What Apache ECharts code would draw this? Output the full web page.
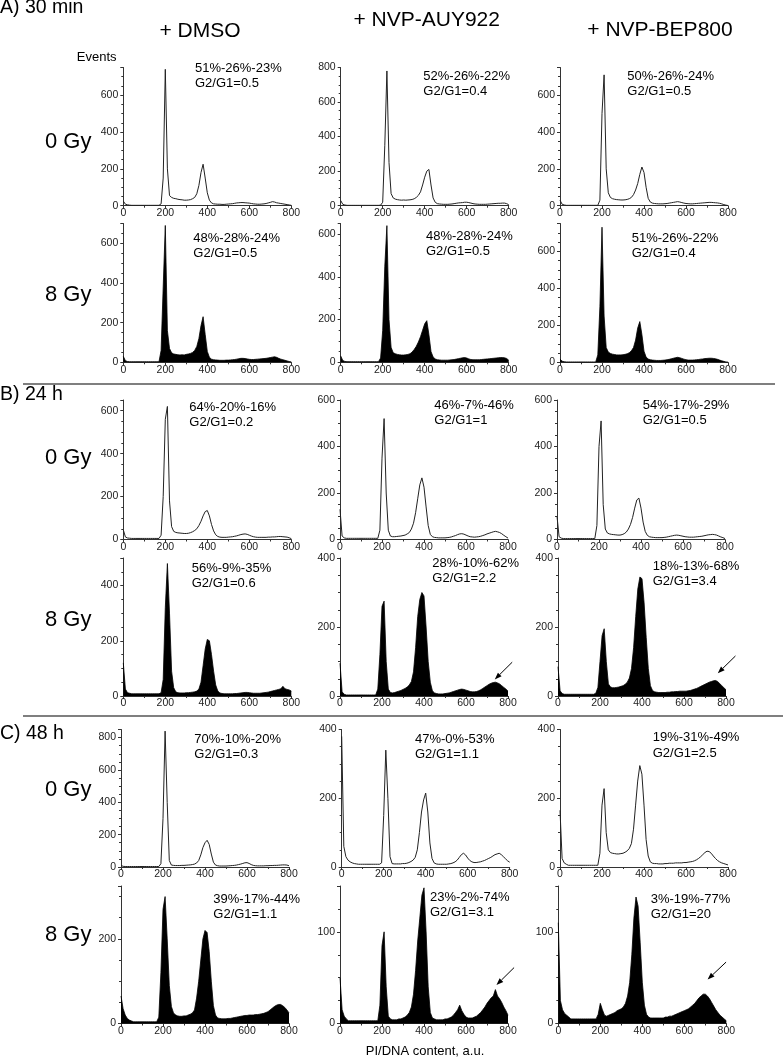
<!DOCTYPE html>
<html><head><meta charset="utf-8">
<script src="https://cdn.jsdelivr.net/npm/echarts@6/dist/echarts.min.js"></script>
<style>html,body{margin:0;padding:0;background:#fff}#c{width:784px;height:1059px}</style>
</head><body><div id="c"></div>
<script>
// ---------- DATA ----------
const xValues = [0,10,20,30,40,50,60,70,80,90,100,110,120,130,140,150,160,170,180,190,
 200,210,220,230,240,250,260,270,280,290,300,310,320,330,340,350,360,370,380,390,
 400,410,420,430,440,450,460,470,480,490,500,510,520,530,540,550,560,570,580,590,
 600,610,620,630,640,650,660,670,680,690,700,710,720,730,740,750,760,770,780,790,800];

const columnTitles = ['+ DMSO', '+ NVP-AUY922', '+ NVP-BEP800'];
const timeLabels = ['A) 30 min', 'B) 24 h', 'C) 48 h'];
const doseLabels = ['0 Gy', '8 Gy', '0 Gy', '8 Gy', '0 Gy', '8 Gy'];
const xAxisTitle = 'PI/DNA content, a.u.';
const yAxisTitle = 'Events';
const xTickInterval = 200;

const dmso30m0 = [25,8,5,3,2,2,2,2,2,2, 2,2,2,2,2,2,2,2,10,150, 740,200,55,45,40,38,35,33,32,30, 30,31,33,38,45,65,110,180,225,150, 70,30,15,10,9,8,8,7,7,8, 9,10,11,13,15,16,17,17,16,15, 14,12,10,9,8,8,9,10,12,15, 18,22,20,16,14,12,10,8,6,4, 2];
const auy30m0 = [30,8,4,2,2,2,2,2,2,2, 2,2,2,2,2,2,2,2,2,3, 20,350,780,250,70,45,38,35,33,32, 33,32,33,34,36,40,48,60,80,120, 165,200,210,120,45,20,12,10,9,8, 8,8,9,10,12,14,16,17,18,20, 20,18,15,12,10,9,8,8,8,8, 9,10,11,12,13,14,14,15,15,12, 6];
const bep30m0 = [30,8,4,2,2,2,2,2,2,2, 2,2,2,2,2,2,2,2,2,30, 500,710,200,70,45,38,35,33,32,31, 31,32,34,38,45,60,85,120,170,210, 180,100,40,20,14,12,11,10,10,10, 11,12,14,16,18,20,22,20,17,14, 12,11,10,10,11,12,13,14,15,16, 17,18,18,17,16,15,13,10,6,3, 1];
const dmso30m8 = [30,8,4,3,3,3,3,3,3,3, 3,3,3,3,3,3,3,3,60,380, 690,160,70,48,42,40,38,37,38,37, 40,42,45,50,60,80,120,185,230,140, 55,25,16,13,12,11,10,10,10,11, 11,12,13,14,16,18,20,20,19,17, 15,14,14,15,16,17,18,19,20,22, 24,26,28,25,20,16,13,10,7,4, 2];
const auy30m8 = [30,8,4,3,3,3,3,3,3,3, 3,3,3,3,3,3,3,3,3,20, 150,450,640,200,70,45,40,37,35,34, 34,35,37,40,48,60,75,95,120,150, 180,195,130,50,25,16,12,11,10,10, 10,10,11,12,13,15,17,19,21,22, 20,16,13,12,12,12,12,13,14,15, 16,17,18,19,20,21,22,22,21,18, 10];
const bep30m8 = [18,6,3,2,2,2,2,2,2,2, 2,2,2,2,2,2,2,2,40,300, 730,250,80,55,48,44,42,40,40,40, 41,43,46,52,62,80,120,185,220,150, 60,28,18,14,12,11,10,10,10,11, 12,14,16,19,22,25,27,25,21,17, 14,12,12,12,13,14,15,17,18,20, 21,22,22,21,19,16,12,8,5,2, 1];
const dmso24h0 = [45,12,7,6,5,5,5,5,5,5, 5,5,5,5,5,5,5,5,20,200, 560,620,180,60,38,33,31,30,29,28, 28,29,32,36,42,50,65,85,110,130, 135,110,70,40,22,14,11,10,10,10, 11,12,13,15,17,20,23,25,26,24, 20,16,13,11,10,10,10,10,10,11, 11,12,12,13,14,14,13,12,11,8, 4];
const auy24h0 = [130,15,7,5,5,5,5,5,5,5, 5,5,5,5,5,5,5,5,5,40, 350,520,200,40,15,12,12,13,14,15, 17,19,24,30,45,70,115,175,235,265, 225,140,60,22,12,9,8,7,7,7, 7,8,9,11,14,17,21,24,25,23, 19,15,12,11,10,11,12,14,17,20, 24,27,30,33,35,33,30,25,18,12, 6];
const bep24h0 = [100,12,6,4,4,4,4,4,4,4, 4,4,4,4,4,4,4,4,4,60, 400,510,150,45,28,24,22,21,20,19, 19,21,25,32,45,65,95,135,170,178, 135,75,35,18,12,10,9,8,8,8, 8,9,10,12,14,16,18,19,18,16, 14,12,11,10,10,10,11,12,13,14, 16,18,20,21,22,21,19,15,11,8, 4];
const dmso24h8 = [120,25,12,10,8,8,8,8,8,8, 8,8,8,8,8,8,8,8,12,60, 320,480,300,90,30,15,12,11,11,11, 12,12,13,14,15,18,25,50,110,170, 205,200,150,90,40,18,11,9,8,8, 8,8,8,9,9,10,11,12,13,13, 12,11,10,10,10,10,11,12,13,14, 16,18,20,22,24,26,35,26,24,22, 18];
const auy24h8 = [95,12,5,3,3,3,3,3,3,3, 3,3,3,3,3,3,3,3,20,120, 260,275,100,20,10,9,10,12,14,16, 19,22,26,32,42,70,140,230,280,300, 290,200,100,40,15,9,7,6,6,6, 7,8,9,11,13,15,17,19,20,19, 17,15,13,12,12,13,15,18,22,26, 30,34,37,39,40,38,35,30,25,20, 14];
const bep24h8 = [85,15,7,5,5,5,5,5,5,5, 5,5,5,5,5,5,5,5,8,25, 100,175,195,100,35,26,24,24,25,26, 28,30,34,40,52,80,140,230,310,345, 340,270,170,80,30,16,12,11,10,10, 10,10,11,11,12,12,13,13,14,14, 14,14,15,16,18,20,22,25,28,31, 34,37,40,42,44,45,42,36,30,24, 18];
const dmso48h0 = [10,4,3,3,3,3,3,3,3,3, 3,3,3,3,3,3,3,3,3,20, 300,840,400,40,12,10,9,9,9,10, 10,11,12,13,15,18,25,40,75,120, 150,165,140,80,30,12,8,6,6,6, 6,7,8,9,10,12,15,18,22,26, 27,22,15,10,8,7,7,7,7,8, 8,9,9,10,10,11,12,13,13,12, 8];
const auy48h0 = [380,60,30,20,15,12,10,9,8,8, 8,8,8,8,8,8,8,8,8,12, 150,340,200,30,10,9,9,9,9,10, 10,11,13,16,20,28,50,100,160,195, 215,160,70,25,12,9,8,8,8,8, 8,9,10,12,15,20,28,36,40,35, 26,19,15,13,13,14,15,17,19,22, 25,28,32,36,38,40,36,30,24,18, 14];
const bep48h0 = [165,25,12,8,5,5,5,5,5,5, 5,5,5,5,5,5,5,5,5,40, 180,228,100,50,42,40,39,38,38,39, 40,43,47,54,68,110,180,250,295,270, 180,80,32,15,11,10,10,9,9,9, 10,10,11,11,11,12,12,12,12,13, 13,14,15,16,18,21,25,30,36,42, 46,45,40,32,25,19,15,12,10,8, 6];
const dmso48h8 = [65,35,20,12,8,6,4,4,4,4, 4,4,4,4,4,4,4,4,15,120, 270,300,200,90,40,25,20,18,17,17, 18,18,20,22,25,32,60,100,150,200, 220,215,170,100,42,20,13,12,11,11, 11,12,12,13,14,15,16,17,18,19, 19,20,20,20,21,21,22,23,24,26, 28,32,36,40,43,45,45,42,38,32, 25];
const auy48h8 = [50,15,8,5,3,3,3,3,3,3, 3,3,3,3,3,3,3,3,3,20, 85,100,40,8,5,4,4,4,5,5, 6,7,9,12,18,32,58,90,115,140, 148,100,40,12,6,5,4,4,4,4, 5,5,6,7,9,12,15,20,14,10, 7,6,6,6,7,8,10,12,15,18, 22,25,28,30,37,30,27,23,18,14, 9];
const bep48h8 = [110,25,15,11,9,7,5,5,5,5, 5,5,5,5,5,5,5,5,5,10, 22,15,9,8,9,10,11,12,14,15, 16,18,22,30,45,75,115,138,128,88, 45,20,10,7,6,6,6,6,6,6, 6,7,7,8,8,9,10,11,12,13, 14,15,16,18,20,22,25,28,30,32, 32,30,27,23,19,15,12,9,7,5, 3];

const histograms = [dmso30m0, auy30m0, bep30m0, dmso30m8, auy30m8, bep30m8,
  dmso24h0, auy24h0, bep24h0, dmso24h8, auy24h8, bep24h8,
  dmso48h0, auy48h0, bep48h0, dmso48h8, auy48h8, bep48h8];

const yMax = [750,800,750, 700,650,750, 650,600,600, 500,400,400, 850,400,400, 325,150,150];
const yInterval = [200,200,200, 200,200,200, 200,200,200, 200,200,200, 200,200,200, 200,100,100];

const phaseLine = ['51%-26%-23%','52%-26%-22%','50%-26%-24%',
  '48%-28%-24%','48%-28%-24%','51%-26%-22%',
  '64%-20%-16%','46%-7%-46%','54%-17%-29%',
  '56%-9%-35%','28%-10%-62%','18%-13%-68%',
  '70%-10%-20%','47%-0%-53%','19%-31%-49%',
  '39%-17%-44%','23%-2%-74%','3%-19%-77%'];
const ratioLine = ['G2/G1=0.5','G2/G1=0.4','G2/G1=0.5',
  'G2/G1=0.5','G2/G1=0.5','G2/G1=0.4',
  'G2/G1=0.2','G2/G1=1','G2/G1=0.5',
  'G2/G1=0.6','G2/G1=2.2','G2/G1=3.4',
  'G2/G1=0.3','G2/G1=1.1','G2/G1=2.5',
  'G2/G1=1.1','G2/G1=3.1','G2/G1=20'];

// arrows in panel data coordinates [panel, fromX, fromY, toX, toY]
const arrows = [[10,820,98,737,48],[11,845,116,761,66],[16,829,61,745,42],[17,799,67,711,48]];

// ---------- LAYOUT ----------
const FONT = '"Liberation Sans", Arial, Helvetica, sans-serif';
const rowTop = [67.5, 223.5, 400, 558, 729.5, 886];
const rowH = [138.2, 138.8, 139.5, 138, 137.5, 137.5];
const colLeft = [[123.3,340.7,560],[123.3,340.7,560],[123.3,340,557],[123.3,340,558],[121,341.7,560],[121,340,558.3]];
const plotW = 168;
const statsPos = [[195,68.3],[423.3,76],[627.3,76],
  [193.3,238.3],[426,236],[631.7,238.3],
  [189.3,407.3],[434.3,405],[642.7,405],
  [191.7,568.3],[432.3,563.3],[652.7,566],
  [194.3,739.3],[415,739.3],[652.7,737.7],
  [213.3,899],[430,897.3],[650.7,899.3]];
const titlePos = [[200,31.7],[426.7,20],[660,30]];
const timePos = [7.5, 395, 733.3];
const dosePos = [141.7, 295, 458.3, 620, 790, 935];

const chart = echarts.init(document.getElementById('c'), null, {renderer: 'canvas'});
const grids = [], xAxes = [], yAxes = [], series = [];
const AX = '#333', TXT = '#222';
for (let i = 0; i < 18; i++) {
  const r = Math.floor(i / 3), c = i % 3;
  grids.push({left: colLeft[r][c], top: rowTop[r], width: plotW, height: rowH[r]});
  xAxes.push({type: 'value', gridIndex: i, min: 0, max: 800, interval: xTickInterval,
    axisLine: {show: true, lineStyle: {color: AX, width: 1}},
    axisTick: {show: true, length: 3, lineStyle: {color: AX}},
    minorTick: {show: true, splitNumber: 2, length: 2, lineStyle: {color: AX}},
    splitLine: {show: false}, minorSplitLine: {show: false},
    axisLabel: {show: true, fontSize: 10.5, color: TXT, fontFamily: FONT, margin: 2}});
  const iv = yInterval[i];
  yAxes.push({type: 'value', gridIndex: i, min: 0, max: yMax[i], interval: iv,
    axisLine: {show: true, lineStyle: {color: AX, width: 1}},
    axisTick: {show: true, length: 3, lineStyle: {color: AX}},
    minorTick: {show: true, splitNumber: 4, length: 2, lineStyle: {color: AX}},
    splitLine: {show: false}, minorSplitLine: {show: false},
    axisLabel: {show: true, fontSize: 10.5, color: TXT, fontFamily: FONT, margin: 5,
      formatter: v => (v % iv === 0 ? String(v) : '')}});
  const filled = (r % 2 === 1);
  const s = {type: 'line', xAxisIndex: i, yAxisIndex: i,
    data: xValues.map((x, k) => [x, histograms[i][k]]),
    showSymbol: false, symbol: 'none', silent: true,
    lineStyle: {color: filled ? '#000' : '#222', width: filled ? 0.8 : 1}};
  if (filled) s.areaStyle = {color: '#000', opacity: 1};
  series.push(s);
}

chart.setOption({animation: false, backgroundColor: '#fff', grid: grids, xAxis: xAxes, yAxis: yAxes, series: series});

// ---------- ANNOTATIONS ----------
const els = [];
function txt(x, y, text, size, align) {
  els.push({type: 'text', x: x, y: y, silent: true,
    style: {text: text, fontSize: size, fontFamily: FONT, fill: '#000', align: align || 'left', verticalAlign: 'middle'}});
}
columnTitles.forEach((t, c) => txt(titlePos[c][0], titlePos[c][1], t, 21, 'center'));
timeLabels.forEach((t, k) => txt(0, timePos[k], t, 19.5, 'left'));
doseLabels.forEach((t, r) => txt(45, dosePos[r], t, 22, 'left'));
txt(96.7, 57.3, yAxisTitle, 13, 'center');
txt(425, 1051.7, xAxisTitle, 13, 'center');
for (let i = 0; i < 18; i++) {
  txt(statsPos[i][0], statsPos[i][1], phaseLine[i], 13, 'left');
  txt(statsPos[i][0], statsPos[i][1] + 15.5, ratioLine[i], 13, 'left');
}
// separators
[[384, 23, 775], [716, 23, 783]].forEach(l => els.push({type: 'line', silent: true,
  shape: {x1: l[1], y1: l[0], x2: l[2], y2: l[0]}, style: {stroke: '#555', lineWidth: 1.5}}));
// arrows
arrows.forEach(a => {
  const p1 = chart.convertToPixel({gridIndex: a[0]}, [a[1], a[2]]);
  const p2 = chart.convertToPixel({gridIndex: a[0]}, [a[3], a[4]]);
  const dx = p2[0] - p1[0], dy = p2[1] - p1[1], L = Math.hypot(dx, dy);
  const ux = dx / L, uy = dy / L, hl = 7, hw = 2.6;
  const bx = p2[0] - ux * hl, by = p2[1] - uy * hl;
  els.push({type: 'line', silent: true, shape: {x1: p1[0], y1: p1[1], x2: bx, y2: by}, style: {stroke: '#000', lineWidth: 1}});
  els.push({type: 'polygon', silent: true, shape: {points: [[p2[0], p2[1]], [bx - uy * hw, by + ux * hw], [bx + uy * hw, by - ux * hw]]}, style: {fill: '#000'}});
});
chart.setOption({graphic: {elements: els}});
</script></body></html>
